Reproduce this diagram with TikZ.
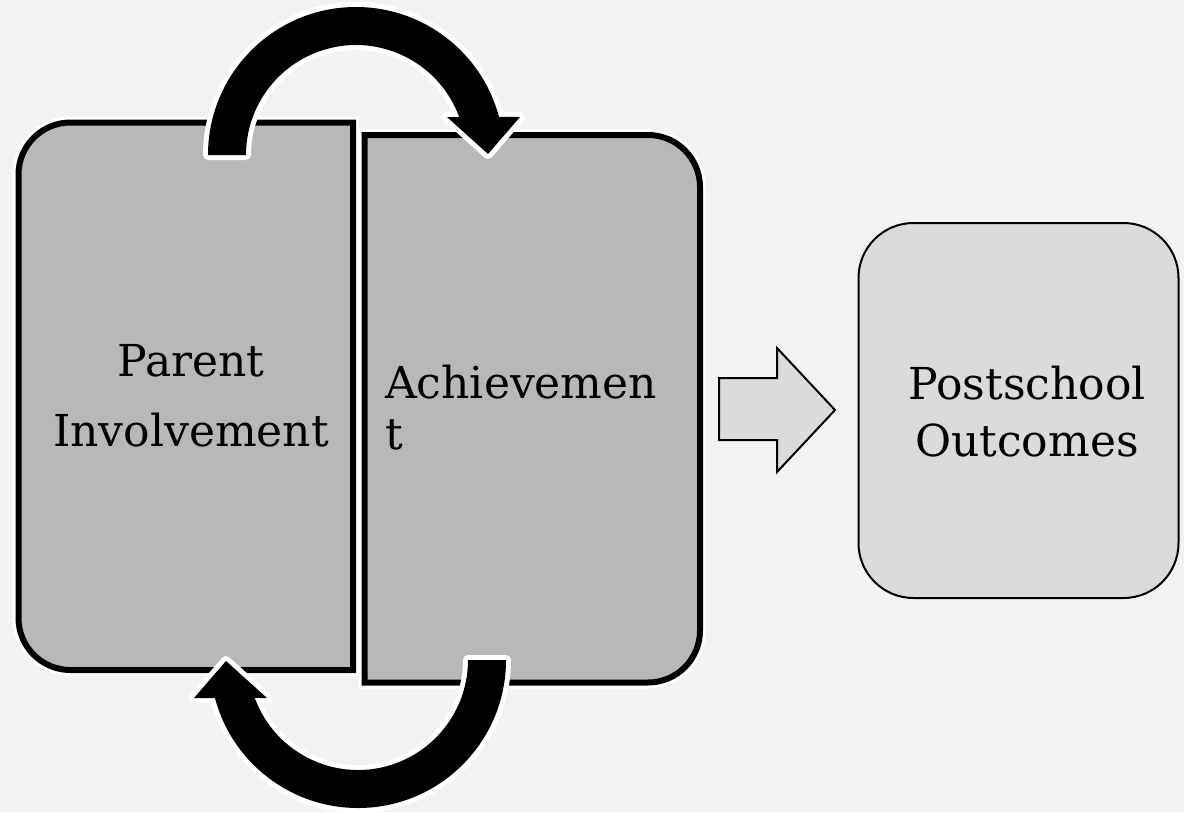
\documentclass[tikz,border=0pt]{standalone}
\usepackage{fontspec}
\setmainfont{DejaVu Serif}
\usepackage{tikz}

\begin{document}
\begin{tikzpicture}[x=1pt, y=-1pt,
  boxline/.style={fill=\boxcolor, draw=black, line width=6pt, preaction={draw=white, line width=12pt}},
  loopbody/.style={fill=black, preaction={draw=white, line width=10pt, line join=round}},
  lbl/.style={font=\fontsize{44}{#1}\selectfont, inner sep=0pt}]
\def\bgcolor{black!5}
\def\boxcolor{black!28}
\def\papercolor{black!14}

\clip (0,0) rectangle (1184,812);
\fill[\bgcolor] (0,0) rectangle (1184,812);

% LEFT BOX (rounded on the left only)
\draw[boxline] (353,122.5) -- (70.5,122.5) arc[start angle=270, end angle=180, radius=52]
  -- (18.5,618) arc[start angle=180, end angle=90, radius=52] -- (353,670) -- cycle;

% RIGHT BOX (rounded on the right only)
\draw[boxline] (364.5,135) -- (648,135) arc[start angle=270, end angle=360, radius=52]
  -- (700,630.5) arc[start angle=0, end angle=90, radius=52] -- (364.5,682.5) -- cycle;

% CURVED ARROWS, top one and the same turned round below
\foreach \cx/\cy/\turn in {356/155/0, 358/660/180} {
\begin{scope}[shift={(\cx,\cy)}, rotate=\turn]
\fill[loopbody] (180:148) arc[start angle=180, end angle=345.1, radius=148]
  -- (164,-38) -- (132,-1) -- (91,-38)
  -- (339.8:110) arc[start angle=339.8, end angle=180, radius=110] -- cycle;
\end{scope}
}

\node[lbl=70, align=center] (parent) at (191,396) {Parent\\Involvement};
\node[lbl=51, align=left, anchor=west] (achieve) at (385,408) {Achievemen\\t};

% BLOCK ARROW
\draw[fill=\papercolor, line width=2pt] (719,378) -- (777,378) -- (777,348) -- (835,410)
  -- (777,472) -- (777,440) -- (719,440) -- cycle;

% OUTCOME BOX
\node[draw, line width=2pt, fill=\papercolor, rounded corners=55pt,
  minimum width=320pt, minimum height=375pt, inner sep=0pt] (postbox) at (1018.5,410.5) {};
\node[lbl=57, align=center] (post) at (1027,412) {Postschool\\Outcomes};
\end{tikzpicture}
\end{document}
